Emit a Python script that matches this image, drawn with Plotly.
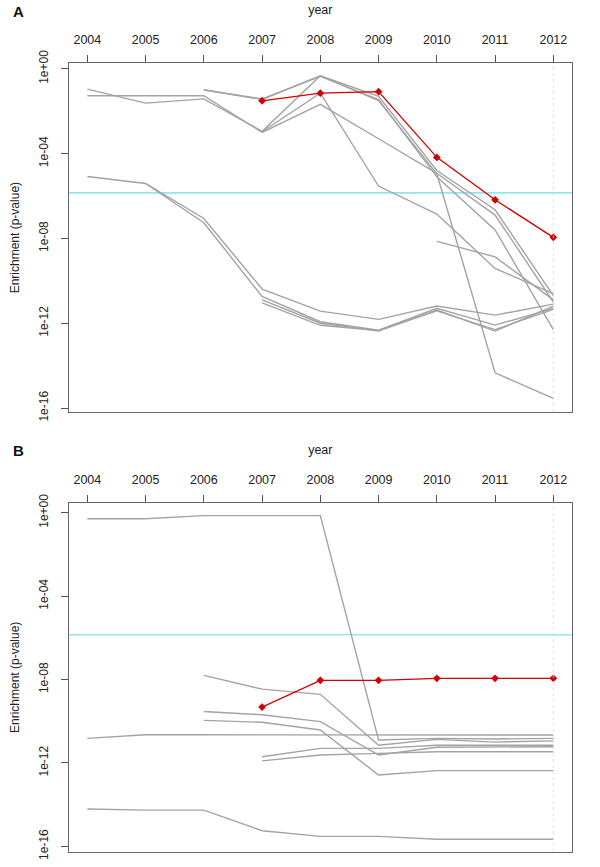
import plotly.graph_objs as go

years = [2004, 2005, 2006, 2007, 2008, 2009, 2010, 2011, 2012]

# log10(p-value); None = no value that year
a_gray = [
    [-0.96, -1.62, -1.42, -2.95, -0.33, -1.50, -4.95, -14.34, -15.55],
    [-1.27, -1.27, -1.27, -3.00, -1.68, -3.30, -4.93, -6.90, -11.00],
    [None, None, -0.99, -1.45, -0.33, -1.30, -4.80, -6.65, -10.70],
    [None, None, -1.00, -1.42, -0.36, -1.45, -5.10, -7.60, -12.30],
    [None, None, None, -2.97, -1.15, -5.53, -6.85, -9.42, -10.60],
    [None, None, None, None, None, None, -8.14, -8.87, -10.90],
    [-5.08, -5.41, -7.06, -10.39, -11.43, -11.82, -11.19, -11.62, -11.10],
    [None, -5.41, -7.26, -10.74, -11.93, -12.33, -11.30, -12.09, -11.30],
    [None, None, None, -10.90, -12.00, -12.37, -11.38, -12.37, -11.20],
    [None, None, None, -11.04, -12.10, -12.35, -11.42, -12.30, -11.35],
]
a_red = [None, None, None, -1.51, -1.15, -1.08, -4.18, -6.18, -7.95]

b_gray = [
    [-0.29, -0.29, -0.14, -0.14, -0.14, -10.90, -10.82, -10.85, -10.82],
    [None, None, -7.80, -8.46, -8.71, -11.15, -10.87, -11.00, -10.94],
    [None, None, -9.53, -9.69, -10.02, -11.62, -11.25, -11.22, -11.22],
    [None, None, -9.96, -10.05, -10.42, -12.58, -12.37, -12.37, -12.37],
    [-10.82, -10.65, -10.65, -10.65, -10.65, -10.65, -10.65, -10.66, -10.66],
    [None, None, None, -11.70, -11.30, -11.30, -11.15, -11.15, -11.15],
    [None, None, None, -11.90, -11.62, -11.54, -11.46, -11.46, -11.46],
    [-14.21, -14.26, -14.26, -15.25, -15.52, -15.52, -15.66, -15.66, -15.66],
]
b_red = [None, None, None, -9.32, -8.04, -8.04, -7.94, -7.94, -7.94]

threshold = 1.4e-6
ytick_vals = [1, 1e-4, 1e-8, 1e-12, 1e-16]
ytick_text = ['1e+00', '1e-04', '1e-08', '1e-12', '1e-16']

GRAY = '#a3a3a3'
RED = '#d00000'
CYAN = '#92e6ec'
FONT = 'Liberation Sans, Arial, sans-serif'
xr = [2003.68, 2012.32]


def to_p(row):
    return [None if v is None else 10 ** v for v in row]


fig = go.Figure()

for xa, ya, grays, red in [('x', 'y', a_gray, a_red), ('x2', 'y2', b_gray, b_red)]:
    fig.add_trace(go.Scatter(x=xr, y=[threshold, threshold], mode='lines',
                             line=dict(color=CYAN, width=1.6),
                             xaxis=xa, yaxis=ya, hoverinfo='skip'))
    for row in grays:
        fig.add_trace(go.Scatter(x=years, y=to_p(row), mode='lines',
                                 line=dict(color=GRAY, width=1.4),
                                 xaxis=xa, yaxis=ya))
    fig.add_trace(go.Scatter(x=years, y=to_p(red), mode='lines+markers',
                             line=dict(color=RED, width=1.3),
                             marker=dict(symbol='diamond', size=6, color=RED),
                             xaxis=xa, yaxis=ya))
    fig.add_shape(type='line', xref=xa, yref=ya + ' domain', x0=2012, x1=2012,
                  y0=0, y1=1, line=dict(color='#d8d8d8', width=0.8, dash='3px,3px'))

xaxis_common = dict(range=xr, side='top', tickvals=years, ticks='outside',
                    ticklen=7, tickcolor='#555', showline=True, linecolor='#666',
                    linewidth=1.2, mirror=True, showgrid=False, zeroline=False,
                    automargin=False, ticklabelstandoff=6,
                    tickfont=dict(size=12.5, color='#222'),
                    title=dict(text='year', font=dict(size=12.5, color='#222'), standoff=15))
yaxis_common = dict(type='log', tickvals=ytick_vals, ticktext=ytick_text,
                    tickangle=-90, ticks='outside', ticklen=7, tickcolor='#555',
                    showline=True, linecolor='#666', linewidth=1.2, mirror=True,
                    showgrid=False, zeroline=False, automargin=False,
                    ticklabelstandoff=8,
                    tickfont=dict(size=12, color='#222'),
                    title=dict(text='Enrichment (p-value)', font=dict(size=12, color='#222'),
                               standoff=14))

fig.update_layout(
    width=600, height=867,
    margin=dict(l=0, r=0, t=0, b=0, autoexpand=False),
    paper_bgcolor='white', plot_bgcolor='white',
    showlegend=False,
    font=dict(family=FONT, color='#222'),
    xaxis=dict(domain=[0.1145, 0.9533], anchor='y', **xaxis_common),
    yaxis=dict(domain=[0.5245, 0.9273], anchor='x', range=[-16.2, 0.27], **yaxis_common),
    xaxis2=dict(domain=[0.1145, 0.9533], anchor='y2', **xaxis_common),
    yaxis2=dict(domain=[0.0173, 0.4202], anchor='x2', range=[-16.27, 0.48], **yaxis_common),
    annotations=[
        dict(text='<b>A</b>', x=0.03, y=0.987, xref='paper', yref='paper',
             xanchor='center', yanchor='middle',
             showarrow=False, font=dict(size=15, color='#111')),
        dict(text='<b>B</b>', x=0.03, y=0.480, xref='paper', yref='paper',
             xanchor='center', yanchor='middle',
             showarrow=False, font=dict(size=15, color='#111')),
    ],
)

# drop the browser's default 8px body margin so the figure sits at the page origin
fig.write_html("out.html", config={'displayModeBar': False},
               post_script="document.body.style.margin='0';")
